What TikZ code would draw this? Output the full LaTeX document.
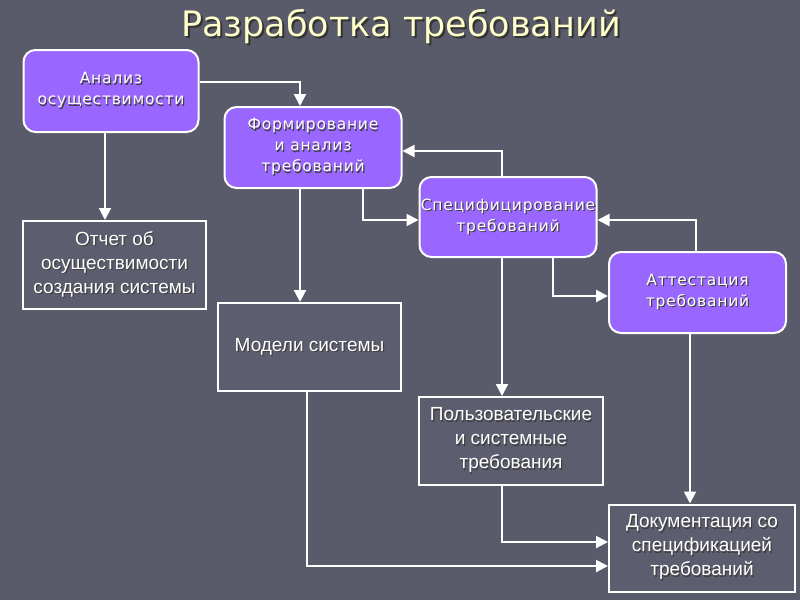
\documentclass[tikz,border=0pt]{standalone}
\usepackage{fontspec}
\setmainfont{Liberation Sans}
\newfontfamily\verd[LetterSpace=5]{DejaVu Sans}
\newfontfamily\ttl{DejaVu Sans}
\usetikzlibrary{arrows.meta}
\definecolor{bgc}{RGB}{89,90,106}
\definecolor{boxc}{RGB}{92,93,110}
\definecolor{purp}{RGB}{153,102,255}
\definecolor{titlec}{RGB}{255,255,204}
\newcommand\sht[1]{\rlap{\hspace{1.2pt}\raisebox{-1.2pt}{\color{black!75}#1}}#1}
\newcommand\shT[1]{\rlap{\hspace{2pt}\raisebox{-2pt}{\color{black!80}#1}}#1}
\tikzset{
  pbox/.style={draw=white, line width=2pt, rounded corners=12pt, fill=purp,
    text=white, font=\verd\fontsize{15.5}{21}\selectfont, align=center,
    inner sep=0pt},
  dbox/.style={draw=white, line width=2pt, fill=boxc, text=white,
    font=\fontsize{19}{24}\selectfont, align=center, inner sep=0pt},
  conn/.style={draw=white, line width=2pt, -{Triangle[length=12pt,width=12pt]}},
}
\begin{document}
\begin{tikzpicture}[x=1pt,y=-1pt]
\fill[bgc] (0,0) rectangle (800,600);
\useasboundingbox (0,0) rectangle (800,600);
% title
\node[text=titlec, font=\ttl\fontsize{35}{40}\selectfont] (title) at (401,28) {\shT{Разработка требований}};
% boxes
\node[pbox, minimum width=175pt, minimum height=82pt] (b1) at (111,91) {\sht{Анализ}\\\sht{осуществимости}};
\node[pbox, minimum width=177pt, minimum height=81pt] (b2) at (313,147.5) {\sht{Формирование}\\\sht{и анализ}\\\sht{требований}};
\node[pbox, minimum width=177pt, minimum height=80pt] (b3) at (508,217) {\sht{Специфицирование}\\\sht{требований}};
\node[pbox, minimum width=177pt, minimum height=81pt] (b4) at (697.5,292.5) {\sht{Аттестация}\\\sht{требований}};
\node[dbox, minimum width=183pt, minimum height=88pt] (b5) at (114.5,265) {\sht{Отчет об}\\\sht{осуществимости}\\\sht{создания системы}};
\node[dbox, minimum width=183pt, minimum height=88pt] (b6) at (309.5,347) {\sht{Модели системы}};
\node[dbox, minimum width=184pt, minimum height=88pt] (b7) at (511,441) {\sht{Пользовательские}\\\sht{и системные}\\\sht{требования}};
\node[dbox, minimum width=186pt, minimum height=87pt] (b8) at (702,548) {\sht{Документация со}\\\sht{спецификацией}\\\sht{требований}};
% connectors
\draw[conn] (b1.east |- 0,82) -| (300,0 |- b2.north);
\draw[conn] (105,0 |- b1.south) -- (105,0 |- b5.north);
\draw[conn] (300,0 |- b2.south) -- (300,0 |- b6.north);
\draw[conn] (363,0 |- b2.south) |- (b3.west |- 0,220);
\draw[conn] (502,0 |- b3.north) |- (b2.east |- 0,151);
\draw[conn] (502,0 |- b3.south) -- (502,0 |- b7.north);
\draw[conn] (553,0 |- b3.south) |- (b4.west |- 0,296);
\draw[conn] (696,0 |- b4.north) |- (b3.east |- 0,220);
\draw[conn] (690,0 |- b4.south) -- (690,0 |- b8.north);
\draw[conn] (502,0 |- b7.south) |- (b8.west |- 0,542);
\draw[conn] (307,0 |- b6.south) |- (b8.west |- 0,566);
\end{tikzpicture}
\end{document}
